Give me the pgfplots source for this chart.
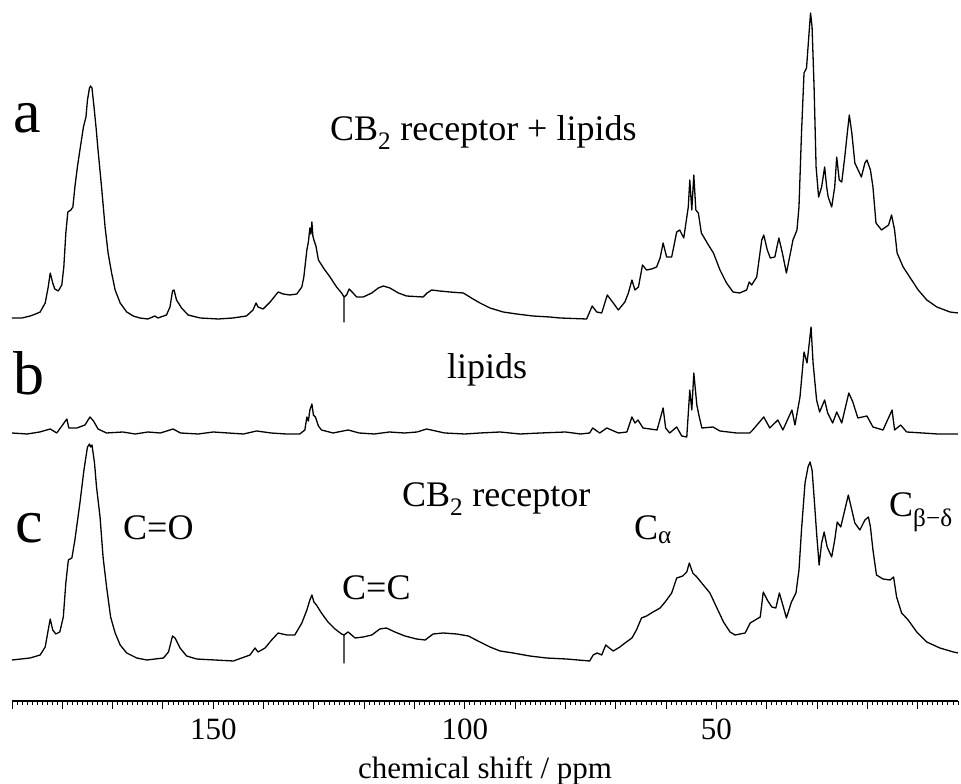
\documentclass[border=0pt]{standalone}
\usepackage{fontspec}
\setmainfont{Liberation Serif}
\usepackage{pgfplots}
\pgfplotsset{compat=1.18}
\usepackage{pgfplotstable}

% a: CB2 receptor + lipids (height above its own baseline)
\pgfplotstableread{
p h
190.0 0
188.0 0
186.4 2
185.3 4
184.4 6
183.4 15
182.8 31
182.4 45
181.9 35
181.5 29
180.8 27
180.1 33
179.7 51
179.3 85
178.9 106
178.3 108
177.9 111
177.5 131
177.0 151
176.5 168
175.8 191
175.3 201
175.0 218
174.6 230
174.4 232
174.1 230
173.7 211
173.3 191
172.9 168
172.2 131
171.5 91
170.9 65
170.2 45
169.5 28
168.5 15
167.2 6
165.9 2
164.6 0
163.0 -1
161.6 2
161.0 0
159.3 3
158.6 11
158.1 27
157.8 28
157.3 18
156.3 10
155.0 3
152.6 0
149.0 -1
146.1 0
143.4 2
142.1 8
141.5 15
141.1 11
140.1 9
138.7 16
137.1 26
136.1 24
134.8 23
133.4 24
132.4 31
132.0 41
131.4 68
131.1 76
130.8 90
130.6 84
130.4 96
130.2 82
130.0 78
129.6 72
129.1 58
128.1 50
126.8 41
125.5 31
124.5 25
124.0 21
124.0 -4
124.0 21
123.5 23
123.0 29
122.4 26
121.5 21
120.2 21
118.5 25
117.2 30
116.2 32
114.9 30
113.2 25
111.6 22
108.3 21
107.5 25
106.6 28
105.0 27
103.0 26
100.3 25
98.7 20
97.0 15
95.0 10
92.4 6
89.7 4
86.5 2
83.1 1
81.1 0
75.8 -1
74.7 12
73.8 6
72.8 5
71.7 23
70.5 15
69.5 8
68.2 16
67.5 25
66.8 38
66.2 28
65.5 31
64.7 53
63.9 48
62.9 49
61.9 51
61.2 60
60.6 75
59.9 61
58.9 61
57.9 86
57.3 88
56.5 80
55.6 111
55.3 138
54.9 108
54.5 143
54.1 108
53.6 105
53.0 85
51.6 73
50.6 65
49.3 48
48.0 35
46.7 26
45.4 25
44.0 28
43.5 36
43.0 33
42.0 41
41.0 78
40.6 83
39.9 68
39.3 60
38.4 61
37.6 80
36.9 65
36.1 45
35.3 65
34.8 78
34.0 88
33.6 111
33.1 185
32.6 245
32.1 250
31.6 285
31.3 305
31.0 291
30.6 231
30.2 151
29.7 121
29.1 131
28.5 151
28.1 131
27.8 121
27.1 111
26.5 131
26.1 161
25.6 138
25.1 136
24.5 161
24.0 185
23.6 203
23.1 185
22.5 155
21.2 141
20.5 155
20.1 158
19.4 148
18.9 131
18.3 95
17.2 88
15.8 93
15.2 103
14.6 88
14.1 65
12.9 51
11.6 41
9.9 28
8.2 18
6.2 11
3.6 6
2.0 5
}\traceA

% b: lipids
\pgfplotstableread{
p h
190.0 0
187.0 -1
184.5 1
182.4 4
181.1 0
179.1 14
178.7 5
177.1 5
175.5 8
174.5 16
173.8 12
172.9 4
171.2 0
168.0 1
165.5 -1
163.0 1
160.5 0
158.0 4
156.5 0
153.0 -1
150.0 1
147.0 0
144.0 -1
141.4 2
138.5 0
135.5 -1
132.8 -1
131.8 3
131.4 16
131.1 12
130.8 23
130.4 29
130.1 18
129.7 16
129.1 7
128.5 3
126.2 0
123.2 3
121.0 0
118.0 -1
115.0 1
112.0 0
109.5 1
107.6 4
104.0 0
100.0 -1
97.0 0
93.0 1
89.0 -1
85.0 0
80.0 1
77.0 -1
75.2 0
74.6 5
73.2 0
71.8 5
69.5 0
67.8 1
66.8 16
66.2 10
65.6 13
64.6 5
61.8 3
60.6 25
60.1 5
59.3 0
57.9 6
56.9 -3
55.9 -4
55.3 43
54.9 23
54.5 60
53.9 28
53.5 18
52.9 5
50.7 6
49.3 2
46.0 0
43.4 0
42.8 3
40.6 16
39.4 5
37.8 13
36.8 3
35.0 23
34.4 8
33.4 36
32.6 81
32.0 70
31.2 106
30.8 70
30.1 33
29.5 21
28.5 33
27.9 20
26.9 10
26.1 21
25.1 10
23.7 40
22.9 31
21.9 15
20.1 17
18.9 6
16.9 3
15.1 23
14.6 3
13.4 8
12.2 1
9.0 0
6.0 -1
2.0 -1
}\traceB

% c: CB2 receptor
\pgfplotstableread{
p h
190.0 0
186.4 2
184.4 5
183.4 13
182.8 30
182.4 41
181.9 30
181.3 26
180.5 28
179.8 43
179.3 77
178.8 100
178.1 102
177.5 120
176.5 157
175.7 190
175.0 213
174.6 216
174.4 213
174.1 215
173.6 197
173.2 173
172.5 143
171.9 103
171.2 73
170.4 43
169.5 27
168.5 15
167.2 7
165.2 2
163.2 0
159.9 2
158.9 8
158.1 24
157.6 22
156.6 12
155.3 4
153.3 1
146.0 -1
142.7 5
141.7 12
141.1 8
139.7 12
138.4 20
137.1 27
135.4 25
133.8 25
132.4 37
131.4 50
130.8 60
130.4 65
130.0 58
129.5 55
128.5 47
127.2 38
125.8 31
124.5 26
124.0 25
124.0 -3
124.0 25
123.5 27
123.2 28
122.5 25
121.8 22
120.2 23
118.5 25
116.9 31
115.6 32
113.9 28
111.9 24
109.6 21
107.9 20
106.3 26
104.3 27
101.6 26
99.3 24
97.0 18
95.0 13
93.0 9
90.4 7
87.1 4
83.8 2
79.8 1
75.2 -1
74.5 5
73.7 7
72.8 5
72.0 15
71.3 12
70.5 9
69.2 13
67.9 18
66.8 22
65.9 30
64.9 42
63.9 44
62.6 48
61.2 52
60.2 58
58.9 67
57.9 82
56.7 84
55.9 88
55.4 97
54.7 87
53.9 83
52.6 75
51.3 67
50.0 53
48.6 38
47.3 28
46.3 25
44.3 27
43.3 37
42.3 40
41.3 43
40.7 68
39.9 60
39.0 53
38.2 52
37.5 67
36.7 53
36.1 42
35.1 58
34.2 67
33.6 90
33.1 130
32.4 177
31.8 193
31.4 198
31.0 190
30.6 163
30.1 127
29.6 95
29.1 117
28.6 128
28.0 113
27.1 103
26.5 120
26.0 138
25.3 133
24.5 150
23.8 165
23.1 150
22.5 137
21.5 130
20.5 140
19.8 143
19.4 133
18.9 110
18.2 85
16.9 81
15.5 80
14.8 83
14.2 63
13.2 47
11.9 40
10.2 28
8.2 18
5.6 12
2.9 8
2.0 7
}\traceC

\begin{document}
\begin{tikzpicture}
\begin{axis}[
  scale only axis, width=946pt, height=701pt,
  xmin=2, xmax=190, ymin=83, ymax=784,
  x dir=reverse,
  hide y axis,
  axis x line*=bottom,
  x axis line style={-, line width=1.3pt},
  xtick={10,20,...,190},
  xticklabels={,,,,50,,,,,100,,,,,150,,,,},
  minor xtick={2,...,190},
  tick align=outside,
  major tick length=8pt, minor tick length=4pt,
  every tick/.style={black, line width=0.9pt},
  xticklabel style={font=\fontsize{31}{36}\selectfont, anchor=base, yshift=-30pt},
  xlabel={chemical shift / ppm},
  xlabel style={font=\fontsize{31}{36}\selectfont, at={(axis description cs:0.5,0)}, anchor=base, yshift=-77pt},
  clip=false,
]
\addplot[black, line width=1.3pt, sharp plot, line join=round] table[x=p, y expr=\thisrow{h}+466] {\traceA};
\addplot[black, line width=1.3pt, sharp plot, line join=round] table[x=p, y expr=\thisrow{h}+351] {\traceB};
\addplot[black, line width=1.3pt, sharp plot, line join=round] table[x=p, y expr=\thisrow{h}+124] {\traceC};
\end{axis}
\begin{scope}[every node/.style={inner sep=0pt, anchor=base west}]
\node[font=\fontsize{62}{70}\selectfont] at (1pt,568pt) {a};
\node[font=\fontsize{62}{70}\selectfont] at (1pt,306pt) {b};
\node[font=\fontsize{62}{70}\selectfont] at (3pt,158pt) {c};
\node[font=\fontsize{36}{40}\selectfont] at (318pt,560pt) {CB\textsubscript{2} receptor + lipids};
\node[font=\fontsize{36}{40}\selectfont] at (435pt,322pt) {lipids};
\node[font=\fontsize{36}{40}\selectfont] at (390pt,194pt) {CB\textsubscript{2} receptor};
\node[font=\fontsize{36}{40}\selectfont] at (111pt,161pt) {C=O};
\node[font=\fontsize{36}{40}\selectfont] at (330pt,101pt) {C=C};
\node[font=\fontsize{36}{40}\selectfont] at (622pt,161pt) {C\textsubscript{α}};
\node[font=\fontsize{36}{40}\selectfont] at (877pt,184pt) {C\textsubscript{β−δ}};
\end{scope}
\pgfresetboundingbox
\path[use as bounding box] (-12pt,-83pt) rectangle (949pt,701pt);
\end{tikzpicture}
\end{document}
